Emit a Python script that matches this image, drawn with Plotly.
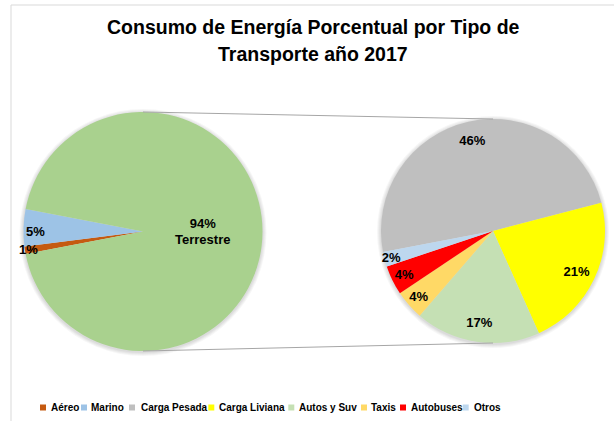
import plotly.graph_objects as go

W, H = 614, 421

# ---- data ----
main_labels = ["Aéreo", "Marino", "Terrestre"]
main_values = [1, 5, 94]
main_colors = ["#C55A11", "#9DC3E6", "#A9D18E"]

sub_labels = ["Carga Pesada", "Carga Liviana", "Autos y Suv", "Taxis", "Autobuses", "Otros"]
sub_values = [46, 21, 17, 4, 4, 2]
sub_colors = ["#BFBFBF", "#FFFF00", "#C5E0B4", "#FFD966", "#FF0000", "#BDD7EE"]

legend_labels = ["Aéreo", "Marino", "Carga Pesada", "Carga Liviana",
                 "Autos y Suv", "Taxis", "Autobuses", "Otros"]
legend_colors = ["#C55A11", "#9DC3E6", "#BFBFBF", "#FFFF00",
                 "#C5E0B4", "#FFD966", "#FF0000", "#BDD7EE"]

title_lines = ["Consumo de Energía Porcentual por Tipo de", "Transporte año 2017"]

# ---- layout helpers (pixel -> paper) ----
def px(x):
    return x / W

def py(y):
    return 1 - y / H

FONT = "Arial, Liberation Sans, sans-serif"
LBL_FONT = dict(family=FONT, size=13, color="black", weight="bold")
CLEAR = "rgba(0,0,0,0)"

# pie boxes in pixels: (left, top, right, bottom)
left_box = (23.5, 112, 262.5, 351)
right_box = (381, 119, 605, 343)

def dom(b):
    return dict(x=[px(b[0]), px(b[2])], y=[py(b[3]), py(b[1])])

# rotation so that the split-off slices sit centred on the left side
small_sum = sum(main_values[:2])
rotation = 270 - small_sum / sum(main_values) * 360 / 2

big_text = [f"{v}%<br>{l}" if l == "Terrestre" else "" for l, v in zip(main_labels, main_values)]
small_text = [f"{v}%" if l != "Terrestre" else "" for l, v in zip(main_labels, main_values)]
sub_text = [f"{v}%" for v in sub_values]

common = dict(sort=False, direction="clockwise", rotation=rotation,
              textinfo="text", textposition="inside",
              insidetextorientation="horizontal", textfont=LBL_FONT,
              showlegend=False)

fig = go.Figure()

# main pie (colours + Terrestre label)
fig.add_trace(go.Pie(
    labels=main_labels, values=main_values, text=big_text,
    marker=dict(colors=main_colors, line=dict(width=0)),
    domain=dom(left_box), hoverinfo="label+value", **common))
# label ring for the small slices of the main pie
fig.add_trace(go.Pie(
    labels=main_labels, values=main_values, text=small_text, hole=0.8,
    marker=dict(colors=[CLEAR] * len(main_values), line=dict(width=0)),
    domain=dom(left_box), hoverinfo="skip", **common))

# secondary pie (colours)
fig.add_trace(go.Pie(
    labels=sub_labels, values=sub_values, text=[""] * len(sub_values),
    marker=dict(colors=sub_colors, line=dict(width=0)),
    domain=dom(right_box), hoverinfo="label+value", **common))
# label ring for the secondary pie
fig.add_trace(go.Pie(
    labels=sub_labels, values=sub_values, text=sub_text, hole=0.66,
    marker=dict(colors=[CLEAR] * len(sub_values), line=dict(width=0)),
    domain=dom(right_box), hoverinfo="skip", **common))

shapes = []
# chart border (top and left edges visible)
shapes.append(dict(type="line", xref="paper", yref="paper",
                   x0=px(11), y0=py(5), x1=1, y1=py(5),
                   line=dict(color="#D9D9D9", width=1)))
shapes.append(dict(type="line", xref="paper", yref="paper",
                   x0=px(11), y0=py(5), x1=px(11), y1=0,
                   line=dict(color="#D9D9D9", width=1)))

# soft shadow halo behind both pies
for b in (left_box, right_box):
    for k in (4, 3, 2, 1):
        shapes.append(dict(type="circle", xref="paper", yref="paper", layer="below",
                           x0=px(b[0] - k), x1=px(b[2] + k),
                           y0=py(b[3] + k + 1), y1=py(b[1] - k + 1),
                           fillcolor="rgba(0,0,0,0.035)", line=dict(width=0)))

# connector lines between the two pies
lcx = (left_box[0] + left_box[2]) / 2
rcx = (right_box[0] + right_box[2]) / 2
for ly, ry in [(left_box[1], right_box[1]), (left_box[3], right_box[3])]:
    shapes.append(dict(type="line", xref="paper", yref="paper",
                       x0=px(lcx), y0=py(ly), x1=px(rcx), y1=py(ry),
                       line=dict(color="#A6A6A6", width=1)))

annotations = []
# title
title_y = [27.5, 54.5]
for t, yy in zip(title_lines, title_y):
    annotations.append(dict(text=t, x=px(313), y=py(yy), xref="paper", yref="paper",
                            xanchor="center", yanchor="middle", showarrow=False,
                            font=dict(family=FONT, size=19.5, color="black", weight="bold")))

# manual legend
legend_sq_x = [40, 81, 129, 208.3, 288.3, 361, 400, 462.7]
legend_txt_x = [48.7, 89, 138.7, 217, 297, 369, 409, 472]
leg_y = 407.5
for lab, col, sx, tx in zip(legend_labels, legend_colors, legend_sq_x, legend_txt_x):
    shapes.append(dict(type="rect", xref="paper", yref="paper",
                       x0=px(sx), x1=px(sx + 6), y0=py(leg_y + 3), y1=py(leg_y - 3),
                       fillcolor=col, line=dict(width=0)))
    annotations.append(dict(text=lab, x=px(tx), y=py(leg_y), xref="paper", yref="paper",
                            xanchor="left", yanchor="middle", showarrow=False,
                            font=dict(family=FONT, size=10, color="black", weight="bold")))

fig.update_layout(
    width=W, height=H,
    margin=dict(l=0, r=0, t=0, b=0),
    paper_bgcolor="white", plot_bgcolor="white",
    shapes=shapes, annotations=annotations,
    uniformtext=dict(minsize=13, mode="show"),
    showlegend=False,
)

fig.write_html("out.html", config={"displayModeBar": False},
               post_script="document.body.style.margin='0';document.body.style.padding='0';")
